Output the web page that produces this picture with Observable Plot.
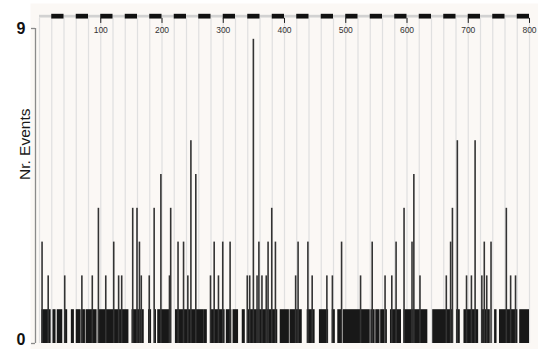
<!DOCTYPE html>
<html><head><meta charset="utf-8">
<script src="https://cdn.jsdelivr.net/npm/d3@7"></script>
<script src="https://cdn.jsdelivr.net/npm/@observablehq/plot@0.6"></script>
<style>body{margin:0;background:#fff}</style>
</head><body><div id="chart"></div>
<script>
// runs of consecutive positions with 1 event
const runStart = [4,22,29,41,52,60,69,76,96,121,151,178,188,193,222,268,280,305,316,331,340,393,409,437,457,478,487,496,541,549,557,565,573,595,642,681,693,722,743,751,784];
const runEnd   = [18,26,37,45,56,67,74,93,120,145,170,182,190,213,267,273,302,313,324,335,388,407,428,449,471,482,493,539,547,555,563,567,590,633,675,686,716,735,746,780,799];
// positions with more than one event
const barPos   = [5,15,42,70,87,97,109,122,130,135,153,160,164,167,180,188,199,213,215,227,236,243,248,256,280,286,293,300,312,340,344,350,356,359,364,371,374,380,386,419,423,439,446,470,479,494,525,544,565,576,583,596,609,612,622,665,672,675,683,698,706,712,723,727,731,738,763,770,778];
const barCount = [3,2,2,2,2,4,2,3,2,2,4,4,3,2,2,4,5,2,4,3,3,2,6,5,2,3,2,3,3,2,2,9,2,3,2,2,3,4,3,2,3,3,2,2,2,3,2,3,2,2,3,4,3,5,2,2,3,4,6,2,2,6,2,3,2,3,4,2,2];
const xTickLabels = [100,200,300,400,500,600,700,800];
const dashStart = [20,60,100,140,180,220,260,300,340,380,420,460,500,540,580,620,660,700,740,780];
const yMax = 9.32;
const yTicks = [0, yMax];

const runs = runStart.map((s, i) => ({s, e: runEnd[i]}));
const bars = barPos.map((p, i) => ({p, c: barCount[i]}));
const fmt = d3.format("d");

const chart = Plot.plot({
  width: 538, height: 349,
  marginLeft: 39, marginRight: 9, marginTop: 28, marginBottom: 6,
  style: {background: "#fff", fontFamily: "'Liberation Sans', Arial, sans-serif"},
  x: {domain: [0, 800], axis: null},
  y: {domain: [0, yMax], axis: null},
  marks: [
    Plot.frame({fill: "#fbf8f5", stroke: null, insetLeft: -9, insetTop: -25, insetRight: -9, insetBottom: -6}),
    Plot.ruleX(d3.range(0, 801, 20), {y1: 0, y2: 9.62, stroke: "#e0e0e0", strokeWidth: 1.2}),
    Plot.rect([0], {x1: 0, x2: 800, y1: 9.63, y2: 9.71, fill: "#d2d2d2"}),
    Plot.rect(dashStart, {x1: d => d, x2: d => d + 20, y1: 9.60, y2: 9.74, fill: "#111"}),
    Plot.ruleX(xTickLabels, {y1: 9.47, y2: 9.62, stroke: "#222"}),
    Plot.text(xTickLabels, {x: d => d, y: yMax, dy: 2, text: d => String(d), fontSize: 8.5, fill: "#333", lineAnchor: "middle"}),
    Plot.rect(runs, {x1: d => d.s, x2: d => d.e + 1, y1: 0, y2: 1, fill: "#181818"}),
    Plot.rect(bars, {x1: d => d.p - 1.3, x2: d => d.p + 1.3, y1: 0, y2: d => d.c, fill: "#333"}),
    Plot.ruleX([0], {y1: 0, y2: yMax, dx: -4, stroke: "#8a8a8a", strokeWidth: 1.3}),
    Plot.ruleY(yTicks, {x1: -6.5, x2: 0, dx: -4, stroke: "#8a8a8a", strokeWidth: 1.3}),
    Plot.text([yTicks[1]], {frameAnchor: "left", y: d => d, text: fmt, textAnchor: "end", dx: -14, fontSize: 16, fontWeight: "bold", fill: "#111"}),
    Plot.text([yTicks[0]], {frameAnchor: "left", y: d => d, text: fmt, textAnchor: "end", dx: -14, dy: 1, lineAnchor: "bottom", fontSize: 16, fontWeight: "bold", fill: "#111"}),
    Plot.text(["Nr. Events"], {frameAnchor: "left", dx: -14, dy: -6, rotate: -90, fontSize: 15.5, fill: "#1a1a1a"})
  ]
});
document.getElementById("chart").append(chart);
</script>
</body></html>
